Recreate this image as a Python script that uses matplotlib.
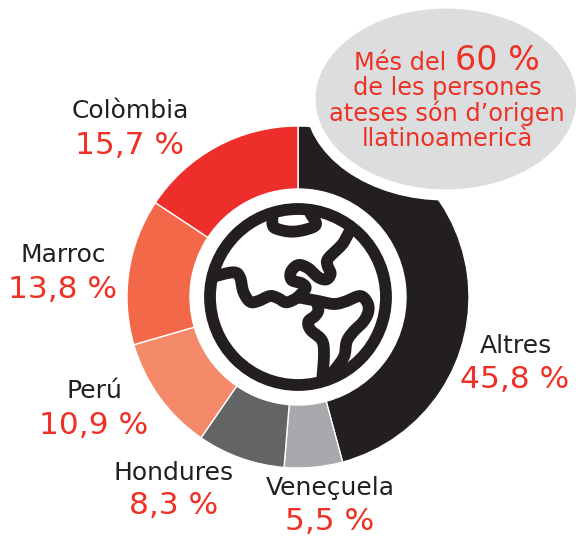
import numpy as np
import matplotlib
matplotlib.use("Agg")
import matplotlib.pyplot as plt
from matplotlib.patches import Ellipse, Circle

categories = ["Altres", "Veneçuela", "Hondures", "Perú", "Marroc", "Colòmbia"]
values = [45.8, 5.5, 8.3, 10.9, 13.8, 15.7]
value_labels = ["45,8 %", "5,5 %", "8,3 %", "10,9 %", "13,8 %", "15,7 %"]
colors = ["#231f20", "#a7a9ac", "#636466", "#f58a6b", "#f26849", "#ee2e2a"]

RED = "#ee3124"
DARK = "#231f20"
H = 536

plt.rcParams["font.family"] = ["DejaVu Sans"]

fig = plt.figure(figsize=(5.76, 5.36), dpi=100)
ax = fig.add_axes([0, 0, 1, 1])

# donut, clockwise from the top
ax.pie(values, colors=colors, startangle=90, counterclock=False,
       center=(298, H - 297), radius=171,
       wedgeprops=dict(width=63, edgecolor="white", linewidth=1))
ax.set_xlim(0, 576)
ax.set_ylim(0, H)
ax.set_aspect("equal")
ax.axis("off")

# bubble
ax.add_patch(Ellipse((446, H - 99), 272, 192, facecolor="#dcddde",
                     edgecolor="white", linewidth=8, zorder=3))


def smooth(p, n=12):
    # rounds off the icon outlines (catmull-rom), p comes from a 3x crop at (190,190)
    p = np.array(p, dtype=float)
    p = np.vstack([p[0], p, p[-1]])
    out = []
    for i in range(1, len(p) - 2):
        for t in np.linspace(0, 1, n, endpoint=False):
            out.append(0.5 * (2 * p[i] + (p[i + 1] - p[i - 1]) * t
                              + (2 * p[i - 1] - 5 * p[i] + 4 * p[i + 1] - p[i + 2]) * t ** 2
                              + (3 * p[i] - p[i - 1] - 3 * p[i + 1] + p[i + 2]) * t ** 3))
    out.append(p[-2])
    out = np.array(out)
    return 190 + out[:, 0] / 3, H - (190 + out[:, 1] / 3)


ax.add_patch(Circle((298, H - 297), 88, facecolor="white", edgecolor=DARK,
                    linewidth=8.5, zorder=4))

arctic = [(248, 70), (248, 105), (262, 117), (305, 125), (350, 118), (378, 103), (362, 72)]
north_east = [(480, 122), (470, 140), (455, 165), (415, 205), (412, 225), (422, 250),
              (410, 268), (385, 262), (355, 235), (325, 225), (303, 245), (305, 270),
              (335, 280), (347, 295), (325, 320)]
west = [(325, 322), (290, 337), (265, 325), (240, 318), (205, 333), (180, 335),
        (160, 305), (150, 262), (130, 247), (70, 260)]
east = [(325, 322), (380, 332), (430, 342), (465, 335), (510, 318), (532, 338),
        (535, 365), (520, 395), (490, 425), (470, 455), (462, 500), (430, 545)]
south = [(380, 335), (385, 360), (375, 378), (355, 395), (362, 420), (395, 450),
         (402, 490), (397, 565)]
for path in [arctic, north_east, west, east, south]:
    xs, ys = smooth(path)
    ax.plot(xs, ys, color=DARK, linewidth=8.5, solid_capstyle="round",
            solid_joinstyle="round", zorder=5)

# category and value labels
name_pos = {"Altres": (516, 346), "Veneçuela": (330, 488), "Hondures": (174, 473),
            "Perú": (94, 391), "Marroc": (63, 255), "Colòmbia": (130, 111)}
value_pos = {"Altres": (515, 380), "Veneçuela": (330, 522), "Hondures": (174, 506),
             "Perú": (94, 425), "Marroc": (63, 289), "Colòmbia": (130, 145)}
for cat, lab in zip(categories, value_labels):
    x, y = name_pos[cat]
    ax.text(x, H - y, cat, color=DARK, fontsize=18, ha="center", va="center", zorder=6)
    x, y = value_pos[cat]
    ax.text(x, H - y, lab, color=RED, fontsize=22.5, ha="center", va="center", zorder=6)

# bubble text
ax.text(400, H - 63, "Més del", color=RED, fontsize=17.3, ha="center", va="center", zorder=6)
ax.text(497, H - 60, "60 %", color=RED, fontsize=24, ha="center", va="center", zorder=6)
ax.text(447, H - 88, "de les persones", color=RED, fontsize=17.3, ha="center", va="center", zorder=6)
ax.text(447, H - 113, "ateses són d’origen", color=RED, fontsize=17.3, ha="center", va="center", zorder=6)
ax.text(447, H - 139, "llatinoamericà", color=RED, fontsize=17.3, ha="center", va="center", zorder=6)

fig.savefig("out.png", dpi=100)
